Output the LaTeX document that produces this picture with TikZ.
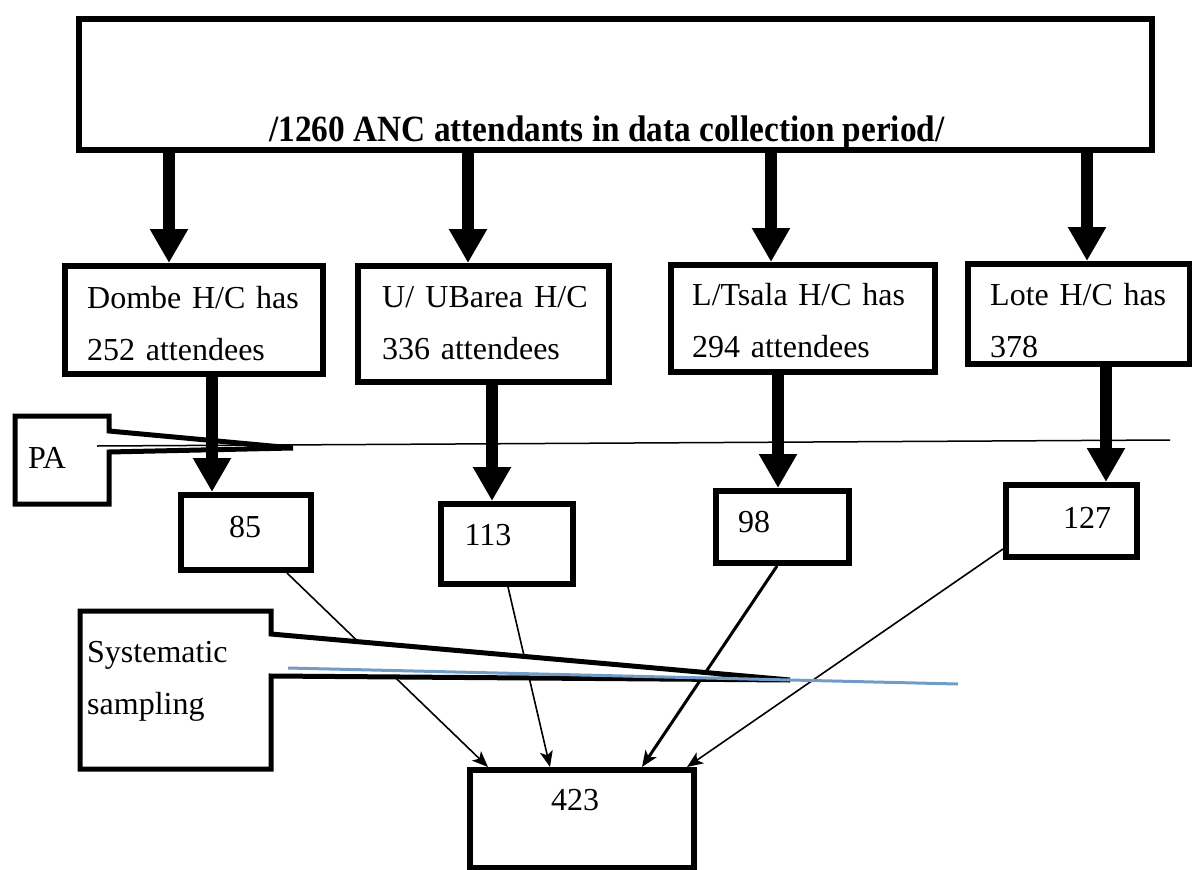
\documentclass[tikz,border=0pt]{standalone}
\usepackage{fontspec}
\setmainfont{Liberation Serif}
\newfontfamily\headfont[FakeStretch=0.9]{Liberation Serif}
\usetikzlibrary{arrows.meta,calc}
\definecolor{lineblue}{RGB}{112,156,199}

\begin{document}
\begin{tikzpicture}[x=1pt, y=-1pt,
    box/.style={draw, line width=6pt, inner sep=0pt, fill=white},
    txt/.style={font=\fontsize{32}{52}\selectfont, anchor=base west, inner sep=0pt, align=left, text width=260pt},
    num/.style={font=\fontsize{32}{36}\selectfont, inner sep=0pt},
    bigarrow/.style={line width=12pt, -{Triangle[length=34pt,width=36pt]}},
    thinarrow/.style={line width=1.6pt, -{Stealth[length=16pt,width=13pt,inset=4pt]}},
    callout/.style={draw, line width=5pt, fill=white}]
    \useasboundingbox (0,0) rectangle (1192,870);

    % Total attendants
    \node[box, minimum width=1073pt, minimum height=131pt] (anc) at (615.5,84.5) {};
    \node[anchor=base, inner sep=0pt, font=\headfont\bfseries\fontsize{37}{40}\selectfont] (anctext) at (607,141)
        {/1260 ANC attendants in data collection period/};

    % Health centres
    \node[box, minimum width=258pt, minimum height=108pt] (dombe) at (194,320) {};
    \node[box, minimum width=251pt, minimum height=116pt] (ubarea) at (483.5,324) {};
    \node[box, minimum width=264pt, minimum height=107pt] (tsala) at (803,318.5) {};
    \node[box, minimum width=222pt, minimum height=100pt] (lote) at (1079,314) {};
    \node[txt] (dombetext) at (87,308) {Dombe H/C has\\252 attendees};
    \node[txt] (ubareatext) at (382,307) {U/\hspace{0.35em}UBarea\hspace{0.35em}H/C\\336 attendees};
    \node[txt] (tsalatext) at (692,305) {L/Tsala H/C has\\294 attendees};
    \node[txt] (lotetext) at (990,305) {Lote H/C has\\378};

    % Samples per centre
    \node[box, minimum width=130pt, minimum height=75pt] (p85) at (246,532.5) {};
    \node[box, minimum width=132pt, minimum height=80pt] (p113) at (507,544) {};
    \node[box, minimum width=133pt, minimum height=72pt] (p98) at (782.5,527) {};
    \node[box, minimum width=131pt, minimum height=72pt] (p127) at (1071.5,521) {};
    \node[num] (p85text) at (245,527) {85};
    \node[num] (p113text) at (488,535) {113};
    \node[num] (p98text) at (754,522) {98};
    \node[num] (p127text) at (1087,518) {127};

    % Final sample
    \node[box, minimum width=224pt, minimum height=98pt] (sample) at (582,819) {};
    \node[num] (sampletext) at (575,800) {423};

    \draw[thinarrow] (287,0 |- p85.south) -- (488,0 |- sample.north);
    \draw[thinarrow] (508,0 |- p113.south) -- (550,0 |- sample.north);
    \draw[thinarrow, line width=3pt] (777,0 |- p98.south) -- (642,0 |- sample.north);
    \draw[thinarrow] (p127.west |- 0,549) -- (687,0 |- sample.north);

    % Systematic sampling callout
    \draw[callout] (80,611) -- (271,611) -- (271,634) -- (790,680) -- (271,676) -- (271,769) -- (80,769) -- cycle;
    \node[txt] (systext) at (87,662) {Systematic\\sampling};
    \draw[lineblue, line width=3pt] (288,668) -- (958,684);

    % PA callout
    \draw[callout] (15,416) -- (109,416) -- (109,431) -- (293,448) -- (109,452) -- (109,504) -- (15,504) -- cycle;
    \node[num] (patext) at (47,458) {PA};
    \draw[line width=1.5pt] (97,446) -- (1170,440);

    % Block arrows
    \foreach \x/\hc in {169/dombe, 468/ubarea, 771/tsala, 1087/lote}
        \draw[bigarrow] (\x,0 |- anc.south) -- (\x,0 |- \hc.north);
    \foreach \x/\hc/\p in {212/dombe/p85, 492/ubarea/p113, 778/tsala/p98, 1106/lote/p127}
        \draw[bigarrow] (\x,0 |- \hc.south) -- (\x,0 |- \p.north);
\end{tikzpicture}
\end{document}
